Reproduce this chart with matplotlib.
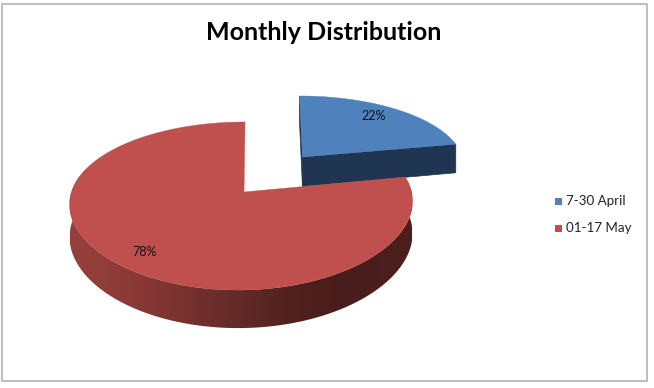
import numpy as np
import matplotlib
matplotlib.use('Agg')
import matplotlib.pyplot as plt
from matplotlib.patches import Polygon, Rectangle
from matplotlib.colors import LinearSegmentedColormap

# chart values
labels = ['7-30 April', '01-17 May']
shares = [22, 78]
top_colors = ['#4f81bd', '#c0504d']
blue_side = '#1f3552'
title = 'Monthly Distribution'

# fake 3d: disk seen in perspective, all in pixel coords of the picture
APEX_X, APEX_Y = 241.5, 192
RED_CORNER = (244, 192)  # inner corner of the red slice sits a bit right of the disk centre
SCALE_X, SCALE_Y = 170, 81.7
PERSP_X, PERSP_Y = 0.13, 1 / 6
SHEAR = 3.5
DEPTH = 31.7
EXPLODE = (0.37, 0.4615)  # offset of the blue slice on the disk

# red outer wall gradient, by screen x
WALL_X = [70, 130, 240, 300, 345, 412]
WALL_C = ['#96403d', '#8c3a37', '#612a28', '#4f201e', '#481d1b', '#4c1f1d']


def project(x, y):
    sx = APEX_X + SCALE_X * x / (1 + PERSP_X * y) + SHEAR * y
    sy = APEX_Y - SCALE_Y * y / (1 + PERSP_Y * y)
    return sx, sy


def drop(y):
    return DEPTH / (1 + PERSP_Y * y)


plt.rcParams['font.family'] = ['Lato', 'DejaVu Sans']
fig = plt.figure(figsize=(6.54, 3.88), dpi=100)
ax = fig.add_axes([0, 0, 1, 1])
ax.axis('off')

ax.add_patch(Rectangle((2, 4), 645, 377, fc='white', ec='#bfbfbf', lw=1.5, zorder=0))
ax.text(324, 32, title, ha='center', va='center', fontsize=18, fontweight='bold', color='black')

# slice angles, clockwise from 12 o'clock
edges = np.cumsum([0] + shares) / sum(shares) * 2 * np.pi

# blue slice
t = np.linspace(edges[0], edges[1], 80)
bx = EXPLODE[0] + np.sin(t)
by = EXPLODE[1] + np.cos(t)
bsx, bsy = project(bx, by)
ctr_x, ctr_y = project(*EXPLODE)
for i in [0, -1]:
    # the two flat walls of the slice
    ax.add_patch(Polygon([(ctr_x, ctr_y), (bsx[i], bsy[i]), (bsx[i], bsy[i] + drop(by[i])),
                          (ctr_x, ctr_y + drop(EXPLODE[1]))], fc=blue_side, ec=blue_side, lw=0.5))
ax.add_patch(Polygon(np.r_[[[ctr_x, ctr_y]], np.c_[bsx, bsy]], fc=top_colors[0], ec=top_colors[0], lw=0.3))

# red slice, outer wall is a gradient image clipped to the rim
t = np.linspace(edges[1], edges[2], 400)
rx = np.sin(t)
ry = np.cos(t)
rsx, rsy = project(rx, ry)
front = ry < 0.3
wall_pts = np.r_[np.c_[rsx[front], rsy[front]], np.c_[rsx[front], rsy[front] + drop(ry[front])][::-1]]
wall_poly = Polygon(wall_pts, fc='none', ec='none', transform=ax.transData)
ax.add_patch(wall_poly)
pos = [(v - WALL_X[0]) / (WALL_X[-1] - WALL_X[0]) for v in WALL_X]
wall_cmap = LinearSegmentedColormap.from_list('wall', list(zip(pos, WALL_C)))
grad = ax.imshow(np.linspace(0, 1, 343)[None, :], cmap=wall_cmap, aspect='auto',
                 extent=(WALL_X[0], WALL_X[-1], 340, 170), interpolation='bilinear', zorder=1.5)
grad.set_clip_path(wall_poly)
ax.add_patch(Polygon(np.r_[[RED_CORNER], np.c_[rsx, rsy]], fc=top_colors[1], ec=top_colors[1], lw=0.3, zorder=2))

# percent labels
ax.text(374, 116, f'{shares[0]}%', ha='center', va='center', fontsize=9, color='#111111', zorder=3)
ax.text(145, 252, f'{shares[1]}%', ha='center', va='center', fontsize=9, color='#111111', zorder=3)

# legend
for lab, col, yy in zip(labels, top_colors, [201, 228]):
    ax.add_patch(Rectangle((555, yy - 3.5), 7, 7, fc=col, ec='none'))
    ax.text(566, yy, lab, ha='left', va='center', fontsize=9.6, color='#222222')

ax.set_xlim(0, 654)
ax.set_ylim(388, 0)
fig.savefig('out.png', dpi=100)
